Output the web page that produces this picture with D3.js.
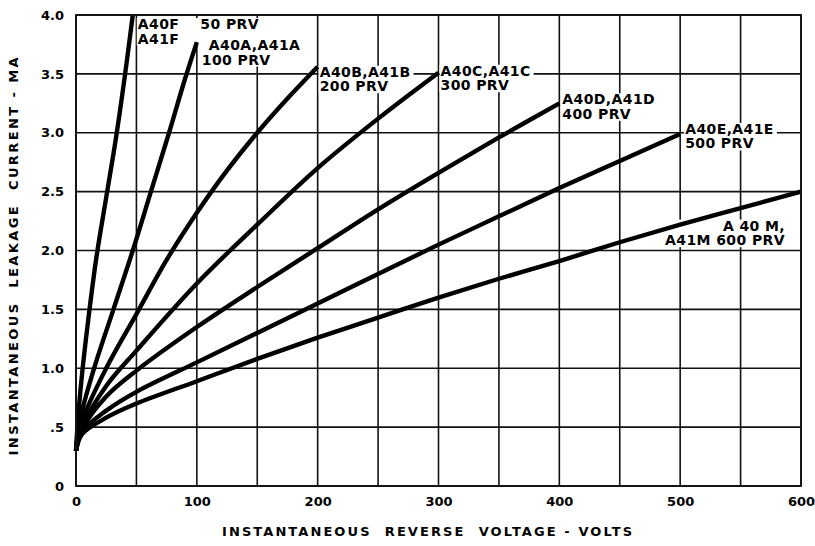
<!DOCTYPE html>
<html>
<head>
<meta charset="utf-8">
<script src="https://cdn.jsdelivr.net/npm/d3@7"></script>
<style>
  body { margin: 0; background: #fff; }
  text { font-family: "DejaVu Sans", sans-serif; font-weight: bold; fill: #000; }
</style>
</head>
<body>
<div id="chart"></div>
<script>
// axis ticks
var voltTicks = [0, 100, 200, 300, 400, 500, 600];
var voltGrid = [0, 50, 100, 150, 200, 250, 300, 350, 400, 450, 500, 550, 600];
var currentTicks = [0, 0.5, 1, 1.5, 2, 2.5, 3, 3.5, 4];
var currentTickLabels = ["0", ".5", "1.0", "1.5", "2.0", "2.5", "3.0", "3.5", "4.0"];

// curves: [volts, mA]
var curveF = [[0,0.3],[1.5,0.55],[5,0.95],[10,1.4],[17,1.95],[25,2.45],[33,2.95],[40,3.45],[47,4.0]];
var curveA = [[0,0.3],[3,0.55],[15,1.0],[31,1.5],[47,2.0],[62,2.5],[77,3.0],[90,3.45],[100,3.77]];
var curveB = [[0,0.3],[5,0.55],[25,1.0],[50,1.46],[75,1.92],[100,2.32],[125,2.68],[150,3.0],[175,3.29],[200,3.56]];
var curveC = [[0,0.3],[5,0.5],[25,0.85],[50,1.15],[100,1.72],[150,2.22],[200,2.7],[250,3.12],[300,3.51]];
var curveD = [[0,0.3],[5,0.48],[25,0.76],[50,0.98],[100,1.35],[150,1.69],[200,2.02],[250,2.35],[300,2.66],[350,2.96],[400,3.25]];
var curveE = [[0,0.3],[5,0.46],[25,0.64],[50,0.8],[100,1.05],[150,1.3],[200,1.55],[250,1.8],[300,2.05],[350,2.29],[400,2.53],[450,2.76],[500,2.99]];
var curveM = [[0,0.3],[5,0.44],[25,0.58],[50,0.7],[100,0.89],[150,1.08],[200,1.26],[250,1.43],[300,1.6],[350,1.76],[400,1.91],[450,2.07],[500,2.22],[550,2.36],[600,2.5]];

var curves = [curveF, curveA, curveB, curveC, curveD, curveE, curveM];
var curveLabels = [
  ["A40F    50 PRV", "A41F"],
  ["A40A,A41A", "100 PRV"],
  ["A40B,A41B", "200 PRV"],
  ["A40C,A41C", "300 PRV"],
  ["A40D,A41D", "400 PRV"],
  ["A40E,A41E", "500 PRV"],
  ["A 40 M,", "A41M 600 PRV"]
];

var margin = {top: 15, right: 14, bottom: 60, left: 76};
var containerWidth = 815;
var containerHeight = 546;
var chartWidth = containerWidth - margin.left - margin.right;
var chartHeight = containerHeight - margin.top - margin.bottom;

var svg = d3.select("#chart").append("svg")
    .attr("width", containerWidth)
    .attr("height", containerHeight)
    .append("g")
      .attr("transform", `translate(${margin.left}, ${margin.top})`);

var xScale = d3.scaleLinear().domain([0, 600]).range([0, chartWidth]);
var yScale = d3.scaleLinear().domain([0, 4]).range([chartHeight, 0]);

// grid
svg.append("g")
  .selectAll("line")
  .data(voltGrid)
  .join("line")
    .attr("x1", d => xScale(d)).attr("x2", d => xScale(d))
    .attr("y1", 0).attr("y2", chartHeight)
    .attr("stroke", "#111").attr("stroke-width", 1.6);

svg.append("g")
  .selectAll("line")
  .data(currentTicks)
  .join("line")
    .attr("x1", 0).attr("x2", chartWidth)
    .attr("y1", d => yScale(d)).attr("y2", d => yScale(d))
    .attr("stroke", "#111").attr("stroke-width", 1.6);

// axes (labels only)
var xAxis = d3.axisBottom(xScale).tickValues(voltTicks).tickSize(0).tickPadding(11).tickFormat(d3.format("d"));
var yAxis = d3.axisLeft(yScale).tickValues(currentTicks).tickSize(0).tickPadding(12)
    .tickFormat((d, i) => currentTickLabels[i]);

svg.append("g")
    .attr("class", "x axis")
    .attr("transform", `translate(0,${chartHeight})`)
    .call(xAxis)
    .call(g => g.select(".domain").remove())
    .selectAll("text")
      .style("font-size", "13px")
      .style("font-family", "'DejaVu Sans', sans-serif")
      .style("font-weight", "bold");

svg.append("g")
    .attr("class", "y axis")
    .call(yAxis)
    .call(g => g.select(".domain").remove())
    .selectAll("text")
      .style("font-size", "13px")
      .style("font-family", "'DejaVu Sans', sans-serif")
      .style("font-weight", "bold");

// curves
var line = d3.line()
    .x(d => xScale(d[0]))
    .y(d => yScale(d[1]))
    .curve(d3.curveCatmullRom.alpha(0.5));

// labels (white boxes knock out the grid)
var labelOffsets = [
  [5, 14], [12, 8], [2, 10], [2, 3], [3, 1], [5, 0], [-16, 39]
];

curves.forEach(function(c, i) {
  var last = c[c.length - 1];
  var lx = xScale(last[0]) + labelOffsets[i][0];
  var ly = yScale(last[1]) + labelOffsets[i][1];
  var anchor = i == 6 ? "end" : "start";
  var g = svg.append("g").attr("class", "curve-label");
  var bg = g.append("rect").attr("fill", "#fff");
  var t = g.append("text")
      .attr("text-anchor", anchor)
      .style("font-size", "14px")
      .style("white-space", "pre")
      .attr("letter-spacing", 0.4);
  curveLabels[i].forEach(function(s, j) {
    t.append("tspan")
      .attr("x", lx + (i == 1 && j == 1 ? -7 : 0))
      .attr("y", ly + j * 14.5)
      .text(s);
  });
  var bb = t.node().getBBox();
  bg.attr("x", bb.x - 1).attr("y", bb.y + 2).attr("width", bb.width + 4).attr("height", bb.height - 3);
});

svg.append("g")
  .selectAll("path")
  .data(curves)
  .join("path")
    .attr("d", line)
    .attr("fill", "none")
    .attr("stroke", "#000")
    .attr("stroke-width", 4.4)
    .attr("stroke-linejoin", "round");

// frame
svg.append("rect")
    .attr("width", chartWidth).attr("height", chartHeight)
    .attr("fill", "none").attr("stroke", "#111").attr("stroke-width", 1.8);

// axis titles
svg.append("text")
    .attr("x", 351)
    .attr("y", chartHeight + 50)
    .attr("text-anchor", "middle")
    .style("font-size", "13px")
    .style("white-space", "pre")
    .attr("textLength", 410)
    .attr("lengthAdjust", "spacing")
    .text("INSTANTANEOUS  REVERSE  VOLTAGE - VOLTS");

svg.append("text")
    .attr("transform", `translate(${-58}, ${yScale(1.95)}) rotate(-90)`)
    .attr("text-anchor", "middle")
    .style("font-size", "13px")
    .style("white-space", "pre")
    .attr("textLength", 398)
    .attr("lengthAdjust", "spacing")
    .text("INSTANTANEOUS  LEAKAGE  CURRENT - MA");
</script>
</body>
</html>
